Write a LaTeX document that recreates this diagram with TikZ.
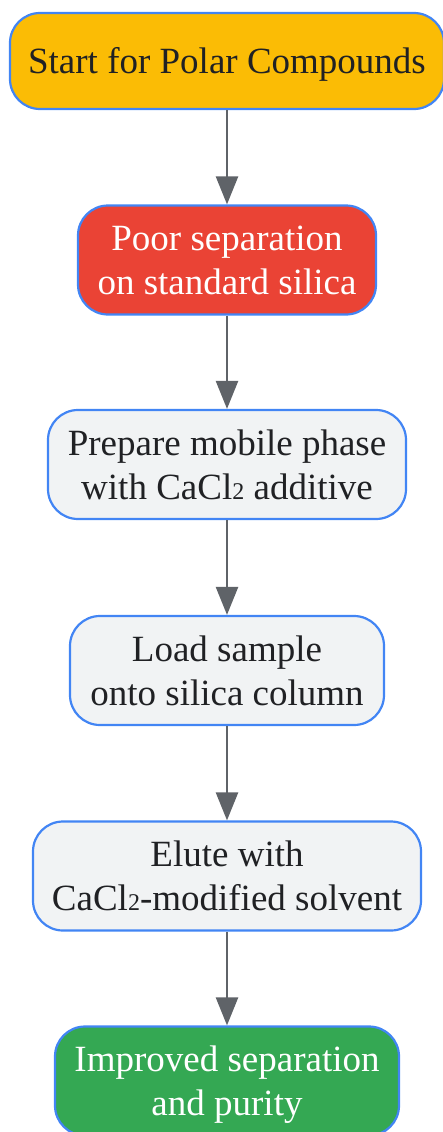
\documentclass[tikz,border=0pt]{standalone}
\usepackage{fontspec}
\setmainfont{Liberation Serif}
\usetikzlibrary{arrows.meta}
\definecolor{gyellow}{HTML}{FBBC05}
\definecolor{gred}{HTML}{EA4335}
\definecolor{ggreen}{HTML}{34A853}
\definecolor{ggray}{HTML}{F1F3F4}
\definecolor{gblue}{HTML}{4285F4}
\definecolor{gtext}{HTML}{202124}
\definecolor{garrow}{HTML}{5F6368}
\newcommand{\boxtext}[1]{\raisebox{-4pt}[\height][\depth]{\begin{tabular}{@{}c@{}}#1\end{tabular}}}
\newcommand{\subtwo}{{\fontsize{24}{24}\selectfont 2}}
\tikzset{
  box/.style={draw=gblue, line width=2.2pt, rounded corners=30pt,
    font=\fontsize{37}{44}\selectfont, inner sep=0pt, minimum height=109pt},
  flow/.style={draw=garrow, line width=2.5pt, -{Triangle[length=28pt,width=22pt]}},
}
\begin{document}
\begin{tikzpicture}[x=1pt,y=-1pt]
\useasboundingbox (0,0) rectangle (443,1132);
\node[box, fill=gyellow, text=gtext, minimum width=434pt, minimum height=96pt] (n1) at (227,61) {\boxtext{Start for Polar Compounds}};
\node[box, fill=gred, text=white, minimum width=298pt] (n2) at (227,260) {\boxtext{Poor separation\\on standard silica}};
\node[box, fill=ggray, text=gtext, minimum width=358pt] (n3) at (227,464.5) {\boxtext{Prepare mobile phase\\with CaCl\subtwo{} additive}};
\node[box, fill=ggray, text=gtext, minimum width=314pt] (n4) at (227,670.5) {\boxtext{Load sample\\onto silica column}};
\node[box, fill=ggray, text=gtext, minimum width=388pt] (n5) at (227,876) {\boxtext{Elute with\\CaCl\subtwo-modified solvent}};
\node[box, fill=ggreen, text=white, minimum width=344pt] (n6) at (227,1081) {\boxtext{Improved separation\\and purity}};
\draw[flow] (n1) -- (n2);
\draw[flow] (n2) -- (n3);
\draw[flow] (n3) -- (n4);
\draw[flow] (n4) -- (n5);
\draw[flow] (n5) -- (n6);
\end{tikzpicture}
\end{document}
